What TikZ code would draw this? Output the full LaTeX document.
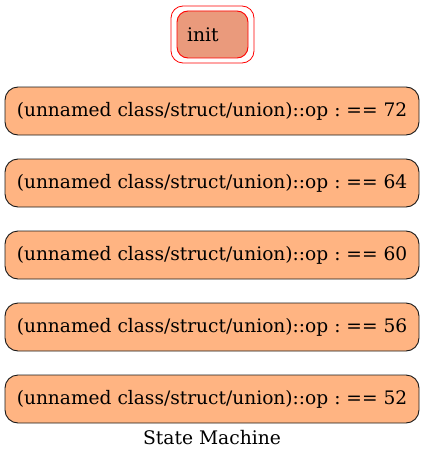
\documentclass[tikz,border=0pt]{standalone}
\usepackage{fontspec}
\setmainfont{DejaVu Serif}
\frenchspacing
\definecolor{boxfill}{HTML}{FFB482}
\definecolor{initfill}{HTML}{EA9A7C}
\begin{document}
\begin{tikzpicture}[x=1pt,y=-1pt,
  statebox/.style={draw=black!90, fill=boxfill, rounded corners=13pt, line width=0.9pt,
    minimum width=414pt, minimum height=48pt, inner sep=0pt,
    font=\fontsize{18.6}{22}\selectfont\frenchspacing},
  lbl/.style={font=\fontsize{18.7}{22}\selectfont, inner sep=0pt}]
\useasboundingbox (0,0) rectangle (425,460);
\draw[red, line width=0.8pt, rounded corners=12pt] (171,6) rectangle (254,63);
\node[draw=red, fill=initfill, line width=0.9pt, rounded corners=11pt, minimum width=71pt, minimum height=47pt, inner sep=0pt] (init) at (212.5,34.5) {};
\node[lbl, anchor=west] (initlbl) at (187,34.5) {init};
\foreach \n/\y in {72/111,64/183,60/255,56/327,52/399}{
  \node[statebox] (s\n) at (212,\y) {(unnamed class/struct/union)::op : == \n};
}
\node[lbl] (cap) at (212,438) {State Machine};
\end{tikzpicture}
\end{document}
